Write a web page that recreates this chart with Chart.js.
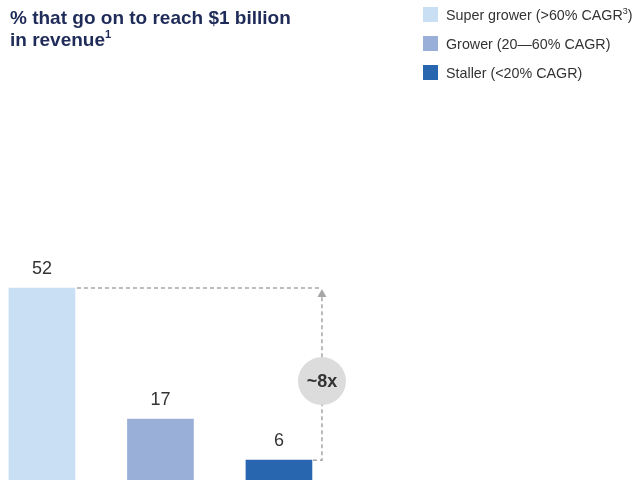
<!DOCTYPE html>
<html>
<head>
<meta charset="utf-8">
<script src="https://cdn.jsdelivr.net/npm/chart.js@4/dist/chart.umd.min.js"></script>
<style>
  html, body { margin: 0; padding: 0; background: #fff; }
  #wrap { position: relative; width: 636px; height: 480px; overflow: hidden; font-family: "Liberation Sans", Arial, sans-serif; }
  #title { position: absolute; left: 10px; top: 7px; font-size: 19px; font-weight: bold; line-height: 22px; color: #1f2b58; }
  #title sup { font-size: 11px; line-height: 0; position: relative; top: -1px; }
  #legend { position: absolute; left: 423px; top: 7px; margin: 0; padding: 0; list-style: none; }
  #legend li { display: flex; align-items: center; height: 15px; margin-bottom: 14px; font-size: 14.3px; color: #333; white-space: nowrap; }
  #legend i { display: inline-block; width: 15px; height: 15px; margin-right: 8px; }
  #legend .note { font-size: 9px; position: relative; top: -4px; }
  canvas { position: absolute; left: 0; top: 0; }
</style>
</head>
<body>
<div id="wrap">
  <canvas id="billionChart" width="636" height="480"></canvas>
  <div id="title">% that go on to reach $1 billion<br>in revenue<sup>1</sup></div>
  <ul id="legend"></ul>
</div>
<script>
// growth groups and their share reaching $1B revenue
const groups = ["Super grower (>60% CAGR", "Grower (20—60% CAGR)", "Staller (<20% CAGR)"];
const groupNotes = ["3", "", ""];
const shares = [52, 17, 6];
const colors = ["#c9e0f4", "#9aafd8", "#2966b0"];
const multiple = "~8x";

// legend
const legend = document.getElementById("legend");
groups.forEach((g, i) => {
  const li = document.createElement("li");
  const sw = document.createElement("i");
  sw.style.background = colors[i];
  li.appendChild(sw);
  li.appendChild(document.createTextNode(g));
  if (groupNotes[i]) {
    const sup = document.createElement("span");
    sup.className = "note";
    sup.textContent = groupNotes[i];
    li.appendChild(sup);
    li.appendChild(document.createTextNode(")"));
  }
  legend.appendChild(li);
});

// value labels + the dashed gap bracket between first and last bar
const gapPlugin = {
  id: "gapBracket",
  afterDatasetsDraw(chart) {
    const { ctx } = chart;
    const meta = chart.getDatasetMeta(0);
    const bars = meta.data;

    ctx.save();
    ctx.fillStyle = "#333";
    ctx.font = '18px "Liberation Sans", Arial, sans-serif';
    ctx.textAlign = "center";
    ctx.textBaseline = "alphabetic";
    bars.forEach((b, i) => {
      ctx.fillText(String(shares[i]), b.x, b.y - 14);
    });

    const first = bars[0];
    const last = bars[bars.length - 1];
    const half = first.width / 2;
    const ax = last.x + half + 10;
    const yTop = first.y;
    const yLow = last.y;

    ctx.strokeStyle = "#a6a6a6";
    ctx.lineWidth = 1.5;
    ctx.setLineDash([4, 3]);
    ctx.beginPath();
    ctx.moveTo(first.x + half + 2, yTop);
    ctx.lineTo(ax, yTop);
    ctx.stroke();
    ctx.beginPath();
    ctx.moveTo(last.x + half + 1, yLow);
    ctx.lineTo(ax, yLow);
    ctx.lineTo(ax, yTop + 8);
    ctx.stroke();
    ctx.setLineDash([]);

    // arrow head
    ctx.fillStyle = "#a6a6a6";
    ctx.beginPath();
    ctx.moveTo(ax, yTop + 1);
    ctx.lineTo(ax - 4.5, yTop + 9);
    ctx.lineTo(ax + 4.5, yTop + 9);
    ctx.closePath();
    ctx.fill();

    // multiple badge
    const cy = (yTop + yLow) / 2 + 7;
    ctx.fillStyle = "#dcdcdc";
    ctx.beginPath();
    ctx.arc(ax, cy, 24, 0, Math.PI * 2);
    ctx.fill();
    ctx.fillStyle = "#333";
    ctx.font = 'bold 18px "Liberation Sans", Arial, sans-serif';
    ctx.textBaseline = "middle";
    ctx.fillText(multiple, ax, cy + 1);
    ctx.restore();
  }
};

new Chart(document.getElementById("billionChart"), {
  type: "bar",
  data: {
    datasets: [
      {
        label: "% reaching $1B",
        data: shares.map((v, i) => ({ x: i, y: v })),
        backgroundColor: colors,
        barThickness: 66,
      },
    ],
  },
  options: {
    responsive: false,
    animation: false,
    layout: { padding: 0 },
    plugins: {
      legend: { display: false },
      tooltip: { enabled: false },
    },
    scales: {
      x: { type: "linear", display: false, offset: false, min: -0.354, max: 5.013 },
      // baseline sits just under the bottom edge, so the bars run off the page
      y: { display: false, min: 0.7, max: 129 },
    },
  },
  plugins: [gapPlugin],
});
</script>
</body>
</html>
